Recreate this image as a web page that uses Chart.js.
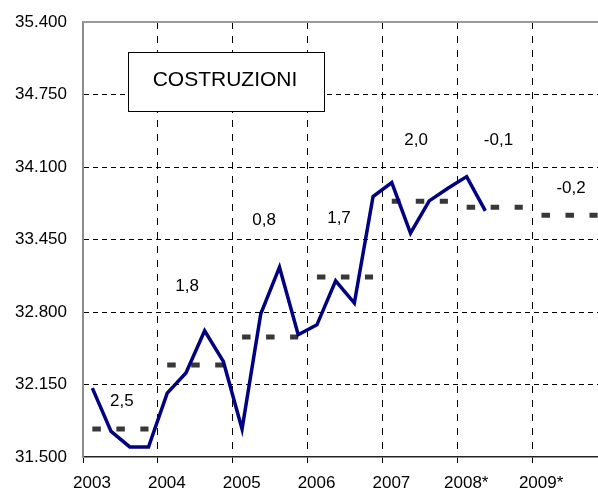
<!DOCTYPE html>
<html>
<head>
<meta charset="utf-8">
<script src="https://cdn.jsdelivr.net/npm/chart.js@4/dist/chart.umd.min.js"></script>
<style>
  html, body { margin: 0; padding: 0; background: #fff; }
</style>
</head>
<body>
<canvas id="chart" width="598" height="492"></canvas>
<script>
// quarterly series, 2003Q1 .. 2008Q2
const years = [2003, 2004, 2005, 2006, 2007, 2008];
const quarterly = [
  32118, 31729, 31590, 31590,
  32073, 32253, 32632, 32357,
  31751, 32784, 33202, 32596,
  32685, 33080, 32880, 33835,
  33960, 33507, 33796, 33910,
  34014, 33707
];
// annual averages (2008-2009 forecast)
const avgYears = [2003, 2004, 2005, 2006, 2007, 2008, 2009];
const annualAvg = [31751, 32324, 32575, 33113, 33793, 33740, 33668];
const growth = ["2,5", "1,8", "0,8", "1,7", "2,0", "-0,1", "-0,2"];
const xTickLabels = ["2003", "2004", "2005", "2006", "2007", "2008*", "2009*"];
const yTickLabels = ["31.500", "32.150", "32.800", "33.450", "34.100", "34.750", "35.400"];

const FONT = "'Liberation Sans', Arial, sans-serif";

const linePoints = quarterly.map((v, i) => ({
  x: years[Math.floor(i / 4)] + ((i % 4) + 0.5) / 4,
  y: v
}));

const avgDatasets = annualAvg.map((v, i) => ({
  data: [
    { x: avgYears[i] + 0.125, y: v },
    { x: avgYears[i] + 0.875, y: v }
  ],
  borderColor: "#383838",
  borderWidth: 5,
  borderDash: [8.5, 15.5],
  borderCapStyle: "butt",
  pointRadius: 0,
  order: 2
}));

// where the growth labels sit, in axis units (year, value)
const labelSpots = [
  [2003.52, 31998], [2004.39, 33026], [2005.42, 33626], [2006.42, 33644],
  [2007.45, 34336], [2008.55, 34336], [2009.52, 33912]
];

const decor = {
  id: "decor",
  afterDatasetsDraw(chart) {
    const { ctx, chartArea: a, scales } = chart;
    ctx.save();
    // top frame line
    ctx.strokeStyle = "#9a9a9a";
    ctx.lineWidth = 2;
    ctx.beginPath();
    ctx.moveTo(a.left, a.top);
    ctx.lineTo(a.right, a.top);
    ctx.stroke();

    // growth rates
    ctx.fillStyle = "#000";
    ctx.font = "17px " + FONT;
    ctx.textAlign = "center";
    ctx.textBaseline = "middle";
    growth.forEach((g, i) => {
      const [yr, val] = labelSpots[i];
      ctx.fillText(g, scales.x.getPixelForValue(yr), scales.y.getPixelForValue(val));
    });

    // title box
    const bx = a.left + 45, by = a.top + 30, bw = 196, bh = 59;
    ctx.fillStyle = "#fff";
    ctx.fillRect(bx, by, bw, bh);
    ctx.strokeStyle = "#000";
    ctx.lineWidth = 1;
    ctx.strokeRect(bx + 0.5, by + 0.5, bw, bh);
    ctx.fillStyle = "#000";
    ctx.font = "21px " + FONT;
    ctx.fillText("COSTRUZIONI", bx + bw / 2 - 1, by + bh / 2 - 1);
    ctx.restore();
  }
};

new Chart(document.getElementById("chart"), {
  type: "line",
  data: {
    datasets: [
      {
        data: linePoints,
        borderColor: "#000080",
        borderWidth: 3.5,
        pointRadius: 0,
        tension: 0,
        order: 1
      },
      ...avgDatasets
    ]
  },
  options: {
    responsive: false,
    animation: false,
    layout: { padding: { top: 22, left: 0, right: 0, bottom: 0 } },
    plugins: {
      legend: { display: false },
      tooltip: { enabled: false }
    },
    scales: {
      x: {
        type: "linear",
        min: 2003,
        max: 2009.88,
        afterFit(s) { s.height = 35; s.paddingLeft = 0; s.paddingRight = 0; },
        border: { color: "#222", width: 1.5, dash: [7, 7] },
        grid: {
          color: c => (c.tick && c.tick.value === 2003 ? "rgba(0,0,0,0)" : "#000"),
          tickColor: "#000",
          lineWidth: 1,
          tickLength: 6
        },
        ticks: {
          stepSize: 1,
          includeBounds: false,
          autoSkip: false,
          maxRotation: 0,
          labelOffset: 9,
          padding: 10,
          color: "#000",
          font: { family: FONT, size: 17 },
          callback: (v) => xTickLabels[avgYears.indexOf(v)]
        }
      },
      y: {
        min: 31500,
        max: 35400,
        afterFit(s) { s.width = 83; s.paddingTop = 0; s.paddingBottom = 0; },
        border: { color: "#8c8c8c", width: 2, dash: [5, 4] },
        grid: {
          color: c => (c.tick && (c.tick.value === 31500 || c.tick.value === 35400) ? "rgba(0,0,0,0)" : "#000"),
          lineWidth: 1,
          drawTicks: false
        },
        ticks: {
          stepSize: 650,
          padding: 16,
          color: "#000",
          font: { family: FONT, size: 17 },
          callback: (v, i) => yTickLabels[i]
        }
      }
    }
  },
  plugins: [decor]
});
</script>
</body>
</html>
